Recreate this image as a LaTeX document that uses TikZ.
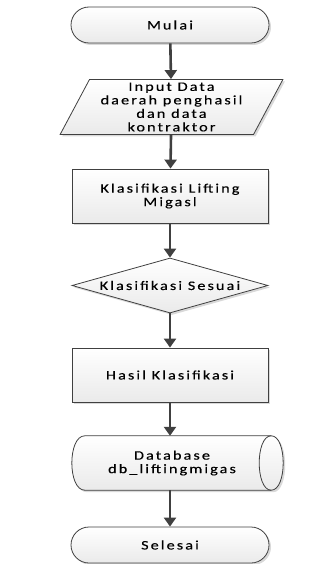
\documentclass[tikz,border=0pt]{standalone}
\usepackage{fontspec}
\setmainfont{Carlito}[LetterSpace=16, FakeStretch=1.25, FakeBold=0.25]
\usetikzlibrary{arrows.meta,shapes.geometric,shadows}

\definecolor{edge}{RGB}{64,64,64}
\definecolor{arrowgray}{RGB}{64,64,64}
\definecolor{shadefill}{RGB}{234,234,234}

\tikzset{
  x=1pt, y=-1pt,
  boxlook/.style={draw=edge, line width=0.8pt,
    top color=white, bottom color=shadefill,
    drop shadow={shadow xshift=2pt, shadow yshift=-2pt, opacity=0.3, fill=gray}},
  flowtext/.style={font=\fontsize{13}{13.5}\selectfont, align=center, inner sep=0pt},
  termbox/.style={boxlook, flowtext, rectangle, rounded corners=18pt,
    minimum width=198pt, minimum height=36pt},
  iobox/.style={boxlook, flowtext, trapezium, trapezium left angle=62.6,
    trapezium right angle=117.4, trapezium stretches=true,
    minimum width=223pt, minimum height=55pt},
  procbox/.style={boxlook, flowtext, rectangle, minimum width=196pt, minimum height=54pt},
  decbox/.style={boxlook, diamond, minimum width=196pt, minimum height=55pt, inner sep=0pt},
  storebox/.style={rectangle, minimum width=186pt, minimum height=54pt, inner sep=0pt},
  flowarrow/.style={draw=arrowgray, line width=2.6pt,
    -{Triangle[width=12pt,length=9pt]}},
}

\begin{document}
\begin{tikzpicture}
\useasboundingbox (0,0) rectangle (328,564);

% flowchart steps, top to bottom
\node[termbox] (mulai) at (170,25) {Mulai};
\node[iobox] (input) at (171.5,107) {Input Data\\daerah penghasil\\dan data\\kontraktor};
\node[procbox] (klas) at (170,196) {Klasifikasi Lifting\\Migasl};
\node[decbox] (cek) at (170,285.5) {};
\node[flowtext] (cektext) at (cek.center) {Klasifikasi Sesuai};
\node[procbox] (hasil) at (170,375) {Hasil Klasifikasi};

% stored data: curved left side, end cap drawn on the right
\node[storebox] (db) at (178,463) {};
\path[boxlook] (db.north west) -- (db.north east)
  .. controls +(16,0) and +(16,0) .. (db.south east) -- (db.south west)
  .. controls +(-17.3,0) and +(-17.3,0) .. cycle;
\draw[edge, line width=0.8pt] (db.north east)
  .. controls +(-16,0) and +(-16,0) .. (db.south east);
\node[flowtext] (dbtext) at (172,463) {Database\\db\_liftingmigas};

\node[termbox] (selesai) at (170,545) {Selesai};

% connectors
\draw[flowarrow] (mulai) -- (input);
\draw[flowarrow] (input) -- (klas);
\draw[flowarrow] (klas) -- (cek);
\draw[flowarrow] (cek) -- (hasil);
\draw[flowarrow] (hasil) -- (hasil |- db.north);
\draw[flowarrow] (hasil |- db.south) -- (selesai);
\end{tikzpicture}
\end{document}
